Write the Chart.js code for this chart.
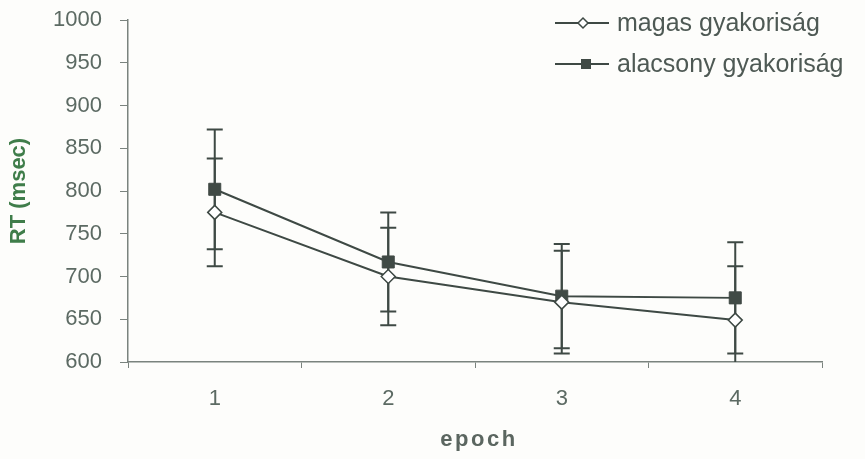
<!DOCTYPE html>
<html>
<head>
<meta charset="utf-8">
<script src="https://cdn.jsdelivr.net/npm/chart.js@4.4.0/dist/chart.umd.min.js"></script>
<style>
    html, body { margin: 0; padding: 0; background: #fdfdfb; }
    #wrap { width: 865px; height: 459px; }
</style>
</head>
<body>
<div id="wrap"><canvas id="rtChart" width="865" height="459"></canvas></div>
<script>
var epochs = ['1', '2', '3', '4'];
var magasValues = [775, 700, 670, 649];
var magasErrors = [63, 57, 60, 63];
var alacsonyValues = [802, 717, 677, 675];
var alacsonyErrors = [70, 58, 61, 65];
var seriesNames = ['magas gyakoriság', 'alacsony gyakoriság'];

var inkColor = '#3e4944';
var tickColor = '#5c6a63';
var fontFamily = '"Liberation Sans", Arial, sans-serif';

// error bars drawn under the markers, through the chart scales
var errorBars = {
    id: 'errorBars',
    beforeDatasetsDraw: function (chart) {
        var ctx = chart.ctx;
        var x = chart.scales.x;
        var y = chart.scales.y;
        var area = chart.chartArea;
        var sets = [[magasValues, magasErrors], [alacsonyValues, alacsonyErrors]];
        ctx.save();
        ctx.beginPath();
        ctx.rect(area.left, area.top - 2, area.right - area.left, area.bottom - area.top + 2);
        ctx.clip();
        ctx.strokeStyle = inkColor;
        ctx.lineWidth = 2;
        sets.forEach(function (s) {
            s[0].forEach(function (v, i) {
                var px = x.getPixelForValue(i);
                var top = y.getPixelForValue(v + s[1][i]);
                var bot = y.getPixelForValue(v - s[1][i]);
                ctx.beginPath();
                ctx.moveTo(px, top);
                ctx.lineTo(px, bot);
                ctx.moveTo(px - 8, top);
                ctx.lineTo(px + 8, top);
                ctx.moveTo(px - 8, bot);
                ctx.lineTo(px + 8, bot);
                ctx.stroke();
            });
        });
        ctx.restore();
    }
};

// legend in the top right corner plus the spaced-out x title
var sideLegend = {
    id: 'sideLegend',
    afterDraw: function (chart) {
        var ctx = chart.ctx;
        var rows = [{ y: 23, style: 'diamond' }, { y: 64, style: 'square' }];
        ctx.save();
        ctx.font = '25px ' + fontFamily;
        ctx.textBaseline = 'middle';
        rows.forEach(function (r, i) {
            ctx.strokeStyle = inkColor;
            ctx.lineWidth = 2;
            ctx.beginPath();
            ctx.moveTo(555, r.y);
            ctx.lineTo(609, r.y);
            ctx.stroke();
            var cx = i === 0 ? 583 : 586;
            if (r.style === 'diamond') {
                ctx.fillStyle = '#ffffff';
                ctx.lineWidth = 1.5;
                ctx.beginPath();
                ctx.moveTo(cx - 5, r.y);
                ctx.lineTo(cx, r.y - 5);
                ctx.lineTo(cx + 5, r.y);
                ctx.lineTo(cx, r.y + 5);
                ctx.closePath();
                ctx.fill();
                ctx.stroke();
            } else {
                ctx.fillStyle = '#404a45';
                ctx.fillRect(cx - 5, r.y - 5, 10, 10);
            }
            ctx.fillStyle = '#4e5954';
            ctx.fillText(seriesNames[i], 617, r.y + 1);
        });

        var xs = chart.scales.x;
        ctx.font = 'bold 22px ' + fontFamily;
        ctx.fillStyle = '#5b6660';
        ctx.textAlign = 'center';
        if ('letterSpacing' in ctx) ctx.letterSpacing = '2.5px';
        ctx.fillText('epoch', (xs.left + xs.right) / 2 + 4, 440);
        ctx.restore();
    }
};

new Chart(document.getElementById('rtChart'), {
    type: 'line',
    data: {
        labels: epochs,
        datasets: [
            {
                label: seriesNames[0],
                data: magasValues,
                borderColor: inkColor,
                borderWidth: 2,
                pointStyle: 'rectRot',
                pointRadius: 7,
                pointBackgroundColor: '#ffffff',
                pointBorderColor: inkColor,
                pointBorderWidth: 1.5,
                tension: 0,
            },
            {
                label: seriesNames[1],
                data: alacsonyValues,
                borderColor: inkColor,
                borderWidth: 2,
                pointStyle: 'rect',
                pointRadius: 8.5,
                pointBackgroundColor: '#404a45',
                pointBorderColor: '#404a45',
                pointBorderWidth: 1,
                tension: 0,
            },
        ],
    },
    options: {
        responsive: false,
        animation: false,
        layout: { padding: { top: 20, right: 43, left: 0, bottom: 0 } },
        plugins: {
            legend: { display: false },
            tooltip: { enabled: false },
        },
        scales: {
            x: {
                offset: true,
                grid: { display: true, offset: true, drawOnChartArea: false, tickLength: 6, color: '#7a837e' },
                border: { display: true, color: '#7a837e', width: 1.5 },
                ticks: { color: tickColor, font: { family: fontFamily, size: 22 }, padding: 18 },
                title: { display: false },
                afterFit: function (s) { s.height = 97; s.paddingLeft = 0; s.paddingRight = 0; },
            },
            y: {
                min: 600,
                max: 1000,
                ticks: {
                    stepSize: 50,
                    color: tickColor,
                    font: { family: fontFamily, size: 22 },
                    padding: 18,
                    callback: function (v) { return String(v); },
                },
                grid: { display: true, drawOnChartArea: false, tickLength: 8, color: '#7a837e' },
                border: { display: true, color: '#7a837e', width: 1.5 },
                title: {
                    display: true,
                    text: 'RT (msec)',
                    color: '#3f7d4a',
                    font: { family: fontFamily, size: 22, weight: 'bold' },
                    padding: { top: 6, bottom: 0 },
                },
                afterFit: function (s) { s.width = 128; s.paddingTop = 0; s.paddingBottom = 0; },
            },
        },
    },
    plugins: [errorBars, sideLegend],
});
</script>
</body>
</html>
